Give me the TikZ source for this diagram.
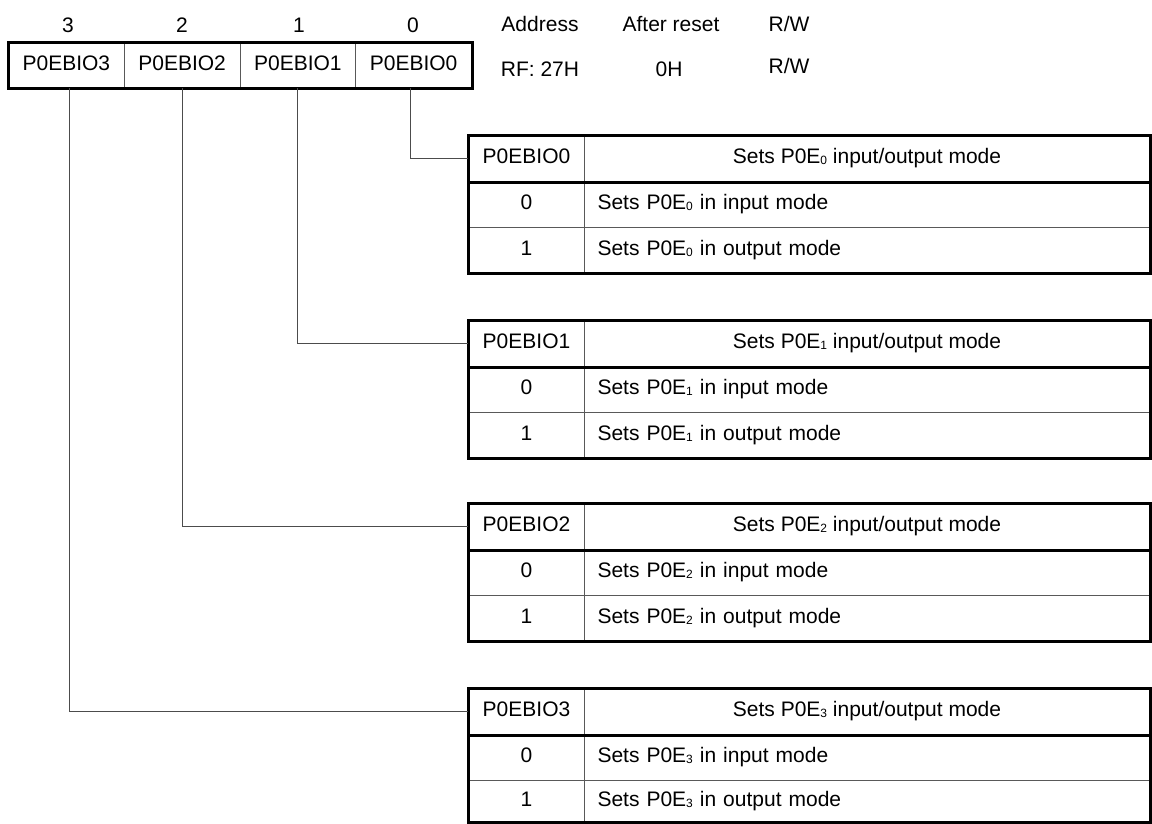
\documentclass[tikz,border=0pt]{standalone}
\usepackage{fontspec}
\setmainfont{Liberation Sans}
\newcommand{\lowsub}[1]{\raisebox{-1pt}{\fontsize{12}{12}\selectfont #1}}
\begin{document}
\begin{tikzpicture}[x=1pt,y=-1pt,
  every node/.style={font=\fontsize{21}{25}\selectfont, inner sep=0pt},
  cell/.style={draw=black!65, line width=1pt, minimum height=#1, anchor=north west, text height=15pt, text depth=5pt},
  cell/.default=46pt,
  lab/.style={cell, minimum width=116pt},
  desc/.style={cell, minimum width=565pt},
  descl/.style={desc, text width=539pt, inner xsep=13pt, align=left},
  reg/.style={draw=black!65, line width=1pt, minimum height=45pt, minimum width=115.75pt, anchor=north west, text height=15pt, text depth=5pt},
  frame/.style={draw=black, line width=3pt},
  conn/.style={draw=black!70, line width=1pt},
  plain/.style={}]
\useasboundingbox (0,0) rectangle (1152,823);
% bit numbers and headings
\node[plain] (b3) at (68,25) {3};
\node[plain] (b2) at (182,25) {2};
\node[plain] (b1) at (299,25) {1};
\node[plain] (b0) at (413,25) {0};
\node[plain] (addr) at (540,24) {Address};
\node[plain] (ares) at (671,24) {After reset};
\node[plain] (rw) at (789,24) {R/W};
\node[plain] (addrv) at (540,69) {RF: 27H};
\node[plain] (aresv) at (669,69) {0H};
\node[plain] (rwv) at (789,66) {R/W};
% register
\node[reg] (r3) at (8,42) {P0EBIO3};
\node[reg] (r2) at (123.75,42) {P0EBIO2};
\node[reg] (r1) at (239.5,42) {P0EBIO1};
\node[reg] (r0) at (355.25,42) {P0EBIO0};
\draw[frame] (r3.north west) rectangle (r0.south east);
% tables
\foreach \i/\t/\lr in {0/135/45, 1/320/45, 2/503/45, 3/688/41}{
  \node[lab] (t\i h) at (468,\t) {P0EBIO\i};
  \node[desc] (t\i d) at (584,\t) {Sets P0E\lowsub{\i} input/output mode};
  \node[lab] (t\i a) at (468,\t+46) {0};
  \node[descl] (t\i ad) at (584,\t+46) {Sets P0E\lowsub{\i} in input mode};
  \node[lab, minimum height=\lr pt] (t\i b) at (468,\t+92) {1};
  \node[descl, minimum height=\lr pt] (t\i bd) at (584,\t+92) {Sets P0E\lowsub{\i} in output mode};
  \draw[frame] (t\i h.north west) rectangle (t\i bd.south east);
  \draw[frame] (t\i h.south west) -- (t\i d.south east);
}
% connectors
\draw[conn] ([xshift=-3pt]r0.south) |- (t0h.west);
\draw[conn] (r1.south) |- (t1h.west);
\draw[conn] (r2.south) |- (t2h.west);
\draw[conn] ([xshift=3pt]r3.south) |- (t3h.west);
\end{tikzpicture}
\end{document}
